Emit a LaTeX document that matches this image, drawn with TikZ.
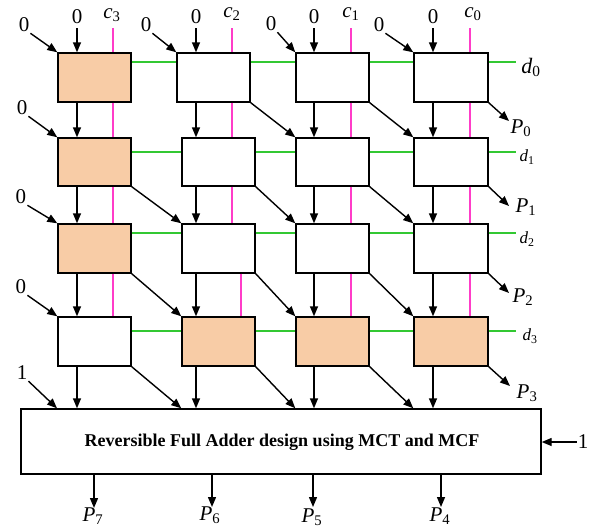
\documentclass[tikz,border=0pt]{standalone}
\usepackage{fontspec}
\setmainfont{Liberation Serif}
\usetikzlibrary{arrows.meta}
\definecolor{cellfill}{RGB}{248,204,166}
\definecolor{pinkline}{RGB}{255,60,200}
\definecolor{greenline}{RGB}{50,200,50}
\newcommand{\sublab}[2]{\textit{#1}\textsubscript{#2}}
\tikzset{
  cell/.style={draw=black, line width=1.4pt, minimum width=73pt, minimum height=49pt, inner sep=0pt, fill=white},
  hot/.style={cell, fill=cellfill},
  arr/.style={line width=1.4pt, -{Triangle[length=10pt,width=8pt]}},
  pk/.style={pinkline, line width=1.5pt},
  gr/.style={greenline, line width=1.5pt},
  lab/.style={inner sep=1pt, font=\fontsize{21}{21}\selectfont},
  plab/.style={inner sep=0pt, font=\fontsize{21}{21}\selectfont},
  dlab/.style={inner sep=0pt, font=\fontsize{17}{17}\selectfont},
}
\begin{document}
\begin{tikzpicture}[x=1pt,y=-1pt]
\useasboundingbox (0,0) rectangle (593,530);
% cells
\node[hot]  (b00) at (94.5,77.5) {};
\node[cell] (b01) at (213.5,77.5) {};
\node[cell] (b02) at (332.5,77.5) {};
\node[cell,minimum width=74pt] (b03) at (451,77.5) {};
\node[hot,minimum height=48pt]  (b10) at (94.5,162) {};
\node[cell,minimum height=48pt] (b11) at (218.5,162) {};
\node[cell,minimum height=48pt] (b12) at (332.5,162) {};
\node[cell,minimum height=48pt,minimum width=74pt] (b13) at (451,162) {};
\node[hot]  (b20) at (94.5,248.5) {};
\node[cell] (b21) at (218.5,248.5) {};
\node[cell] (b22) at (332.5,248.5) {};
\node[cell,minimum width=74pt] (b23) at (451,248.5) {};
\node[cell] (b30) at (94.5,341.5) {};
\node[hot]  (b31) at (218.5,341.5) {};
\node[hot]  (b32) at (332.5,341.5) {};
\node[hot,minimum width=74pt] (b33) at (451,341.5) {};
% big box
\node[draw=black, line width=1.4pt, minimum width=520pt, minimum height=65pt, inner sep=0pt] (big) at (281,441.5) {};
\node[inner sep=0pt, font=\fontsize{18}{18}\selectfont\bfseries] (bigtext) at (282,442) {Reversible Full Adder design using MCT and MCF};
% column coordinates
\coordinate (v0) at (77,0);  \coordinate (v1) at (196,0);
\coordinate (v2) at (314,0); \coordinate (v3) at (433,0);
\coordinate (p0) at (113,0); \coordinate (p1) at (232,0);
\coordinate (p2) at (351,0); \coordinate (p3) at (470,0);
\coordinate (p1b) at (241,0);
\coordinate (top) at (0,28);
\coordinate (ye) at (57,0);
% top labels
\node[lab] (t0) at (77,17) {0};
\node[lab] (t1) at (196,17) {0};
\node[lab] (t2) at (314,17) {0};
\node[lab] (t3) at (433,17) {0};
\node[plab] (c0) at (112,15) {\sublab{c}{3}};
\node[plab] (c1) at (232,14) {\sublab{c}{2}};
\node[plab] (c2) at (351,14) {\sublab{c}{1}};
\node[plab] (c3) at (473,14) {\sublab{c}{0}};
\node[lab] (z0) at (24,25) {0};
\node[lab] (z1) at (146,25) {0};
\node[lab] (z2) at (271,24) {0};
\node[lab] (z3) at (379,25) {0};
\node[lab] (y1) at (22,108) {0};
\node[lab] (y2) at (21,197) {0};
\node[lab] (y3) at (21,287) {0};
\node[lab] (y4) at (22,373) {1};
\node[lab] (r1) at (583,442) {1};
% top inputs
\foreach \c in {0,...,3} {
  \draw[pk] (p\c |- top) -- (b0\c.north -| p\c);
  \draw[arr] (v\c |- top) -- (b0\c.north -| v\c);
  \draw[arr] (z\c.south east) -- (b0\c.north west);
  \draw[arr] (b3\c.south -| v\c) -- (big.north -| v\c);
}
\draw[arr] (y1.south east) -- (b10.north west);
\draw[arr] (y2.south east) -- (b20.north west);
\draw[arr] (y3.south east) -- (b30.north west);
\draw[arr] (y4.south east) -- (big.north -| ye);
\draw[arr] (r1.west) -- (big.east |- r1.west);
% verticals between rows
\foreach \r/\n in {0/1,1/2,2/3} {
  \foreach \c in {0,...,3} {
    \draw[arr] (b\r\c.south -| v\c) -- (b\n\c.north -| v\c);
  }
}
\foreach \r/\n in {0/1,1/2} {
  \foreach \c in {0,...,3} {
    \draw[pk] (b\r\c.south -| p\c) -- (b\n\c.north -| p\c);
  }
}
\foreach \c in {0,2,3} { \draw[pk] (b2\c.south -| p\c) -- (b3\c.north -| p\c); }
\draw[pk] (b21.south -| p1b) -- (b31.north -| p1b);
% diagonals
\foreach \a/\b in {01/12,02/13,10/21,11/22,12/23,20/31,21/32,22/33} {
  \draw[arr] (b\a.south east) -- (b\b.north west);
}
\foreach \c/\d in {0/1,1/2,2/3} {
  \draw[arr] (b3\c.south east) -- (big.north -| b3\d.west);
}
% green lines
\foreach \r/\y in {0/62,1/152,2/233,3/331} {
  \coordinate (g\r) at (0,\y);
  \coordinate (ge\r) at (516,\y);
  \foreach \c/\d in {0/1,1/2,2/3} {
    \draw[gr] (b\r\c.east |- g\r) -- (b\r\d.west |- g\r);
  }
  \draw[gr] (b\r3.east |- g\r) -- (ge\r);
}
% d labels
\node[plab,font=\fontsize{22}{22}\selectfont] (d0) at (531,67) {\sublab{d}{0}};
\node[dlab] (d1) at (527,157) {\sublab{d}{1}};
\node[dlab] (d2) at (527,239) {\sublab{d}{2}};
\node[dlab] (d3) at (530,336) {\sublab{d}{3}};
% right outputs
\coordinate (o0) at (509,121);
\coordinate (o1) at (509,206);
\coordinate (o2) at (509,293);
\coordinate (o3) at (510,386);
\foreach \r in {0,...,3} { \draw[arr] (b\r3.south east) -- (o\r); }
\node[plab] (P0) at (521,128) {\sublab{P}{0}};
\node[plab] (P1) at (526,207) {\sublab{P}{1}};
\node[plab] (P2) at (523,297) {\sublab{P}{2}};
\node[plab] (P3) at (527,393) {\sublab{P}{3}};
% bottom outputs
\coordinate (q7) at (94,508);
\coordinate (q6) at (212,507);
\coordinate (q5) at (313,507);
\coordinate (q4) at (441,507);
\foreach \k in {7,6,5,4} { \draw[arr] (big.south -| q\k) -- (q\k); }
\node[plab] (P7) at (93,516) {\sublab{P}{7}};
\node[plab] (P6) at (210,515) {\sublab{P}{6}};
\node[plab] (P5) at (312,517) {\sublab{P}{5}};
\node[plab] (P4) at (440,516) {\sublab{P}{4}};
\end{tikzpicture}
\end{document}
